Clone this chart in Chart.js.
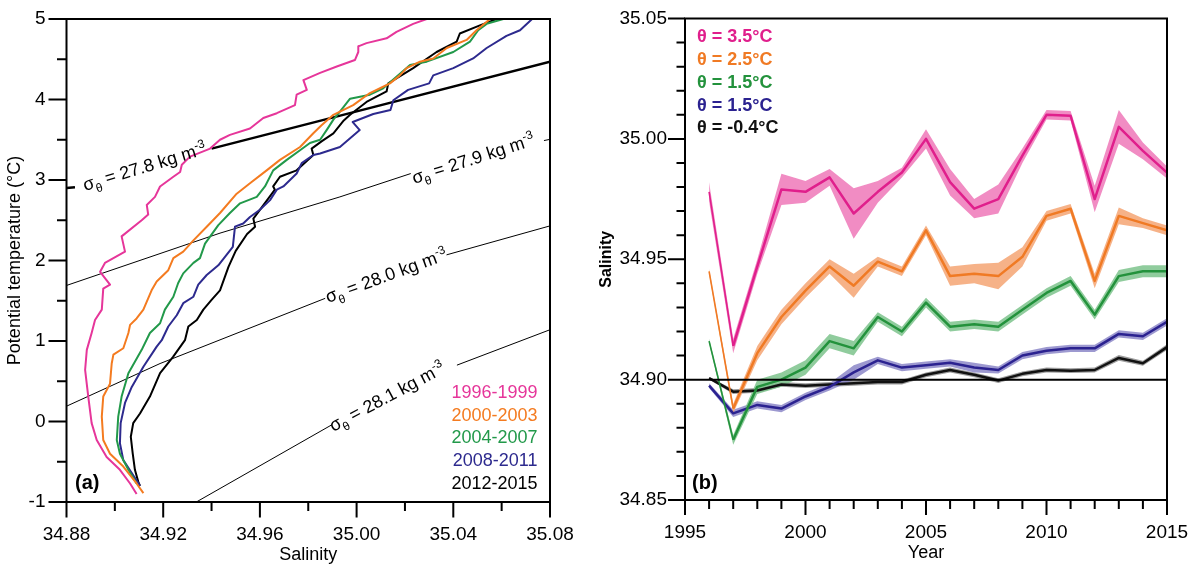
<!DOCTYPE html>
<html>
<head>
<meta charset="utf-8">
<script src="https://cdn.jsdelivr.net/npm/chart.js@4.4.0/dist/chart.umd.min.js"></script>
<style>
html, body { margin: 0; padding: 0; background: #fff; }
#wrap { position: relative; width: 1194px; height: 570px; }
#ca { position: absolute; left: 0; top: 0; }
#cb { position: absolute; left: 590px; top: 0; }
</style>
</head>
<body>
<div id="wrap">
  <canvas id="ca" width="590" height="570"></canvas>
  <canvas id="cb" width="604" height="570"></canvas>
</div>
<script>
// ---- panel (a): theta-S profiles, one per period ----
const sal9699 = [35.029, 35.0234, 35.0165, 35.0124, 35.0041, 35.0007, 35.0007, 34.9993, 34.9918, 34.9849, 34.978, 34.9794, 34.9752, 34.9745, 34.967, 34.9614, 34.9559, 34.9476, 34.9435, 34.9394, 34.9311, 34.9277, 34.927, 34.9242, 34.9187, 34.9166, 34.9132, 34.9138, 34.9111, 34.9028, 34.9042, 34.8959, 34.8939, 34.898, 34.8952, 34.8946, 34.8918, 34.8904, 34.8884, 34.8877, 34.889, 34.8904, 34.8925, 34.8966, 34.9021, 34.9063, 34.909];
const th9699  = [5.00, 4.94, 4.84, 4.76, 4.70, 4.66, 4.59, 4.49, 4.41, 4.33, 4.24, 4.12, 4.06, 3.93, 3.83, 3.77, 3.64, 3.56, 3.50, 3.39, 3.29, 3.19, 3.10, 3.04, 2.92, 2.79, 2.69, 2.57, 2.50, 2.30, 2.11, 1.97, 1.86, 1.70, 1.65, 1.39, 1.26, 1.10, 0.89, 0.64, 0.31, -0.02, -0.23, -0.44, -0.60, -0.77, -0.90];

const sal0003 = [35.0552, 35.0496, 35.0455, 35.0373, 35.0317, 35.0262, 35.0207, 35.0179, 35.0138, 35.0097, 35.0055, 34.9986, 34.9904, 34.9855, 34.9821, 34.9766, 34.9683, 34.9628, 34.9559, 34.9504, 34.9435, 34.938, 34.9325, 34.9283, 34.9242, 34.9221, 34.9173, 34.9152, 34.9118, 34.909, 34.9063, 34.9056, 34.9035, 34.8994, 34.8987, 34.898, 34.8952, 34.8946, 34.8952, 34.898, 34.9035, 34.909, 34.9118];
const th0003  = [5.00, 4.86, 4.74, 4.64, 4.51, 4.47, 4.39, 4.30, 4.20, 4.14, 4.08, 3.93, 3.81, 3.68, 3.58, 3.41, 3.25, 3.12, 2.96, 2.83, 2.59, 2.42, 2.25, 2.11, 2.03, 1.88, 1.74, 1.63, 1.39, 1.28, 1.20, 1.10, 0.91, 0.83, 0.72, 0.47, 0.31, 0.06, -0.23, -0.40, -0.56, -0.77, -0.89];

const sal0407 = [35.0607, 35.0538, 35.0503, 35.0469, 35.04, 35.029, 35.0221, 35.011, 35.0055, 34.9973, 34.9931, 34.9904, 34.9876, 34.9849, 34.9807, 34.9766, 34.9711, 34.9655, 34.9621, 34.9587, 34.9518, 34.9476, 34.9428, 34.9373, 34.9352, 34.9325, 34.9283, 34.9262, 34.9242, 34.9207, 34.9187, 34.9145, 34.9111, 34.9056, 34.9028, 34.9014, 34.9008, 34.9021, 34.9056, 34.909];
const th0407  = [5.00, 4.94, 4.86, 4.72, 4.59, 4.47, 4.43, 4.14, 4.06, 4.01, 3.85, 3.75, 3.62, 3.50, 3.46, 3.37, 3.25, 3.12, 2.92, 2.79, 2.71, 2.59, 2.44, 2.21, 2.03, 1.97, 1.84, 1.72, 1.55, 1.39, 1.22, 1.10, 0.89, 0.60, 0.31, 0.06, -0.23, -0.40, -0.60, -0.77];

const sal0811 = [35.0726, 35.0676, 35.062, 35.0538, 35.0482, 35.04, 35.0317, 35.03, 35.0213, 35.0152, 35.014, 35.0069, 34.9984, 35.0013, 34.9931, 34.9849, 34.9821, 34.9773, 34.9752, 34.9697, 34.967, 34.9642, 34.96, 34.9559, 34.9531, 34.9497, 34.9488, 34.9428, 34.938, 34.9345, 34.9325, 34.9283, 34.9256, 34.9221, 34.9194, 34.9173, 34.9118, 34.907, 34.9042, 34.9024, 34.9021, 34.9035, 34.907, 34.9104];
const th0811  = [5.00, 4.86, 4.79, 4.64, 4.51, 4.39, 4.30, 4.20, 4.12, 3.99, 3.87, 3.82, 3.72, 3.62, 3.41, 3.33, 3.31, 3.21, 3.08, 2.92, 2.88, 2.75, 2.63, 2.54, 2.46, 2.42, 2.17, 1.94, 1.82, 1.70, 1.55, 1.47, 1.32, 1.18, 1.01, 0.93, 0.68, 0.43, 0.23, -0.02, -0.27, -0.48, -0.64, -0.80];

const sal1215 = [35.0579, 35.051, 35.0427, 35.0414, 35.0331, 35.0234, 35.0131, 35.0124, 35.0041, 34.9973, 34.9947, 34.9904, 34.9855, 34.9814, 34.9821, 34.9752, 34.9683, 34.9655, 34.9662, 34.96, 34.9573, 34.958, 34.9547, 34.950, 34.947, 34.9435, 34.94, 34.9366, 34.9339, 34.9304, 34.929, 34.924, 34.9187, 34.9145, 34.9104, 34.9076, 34.9066, 34.9074, 34.9083, 34.9097, 34.9104];
const th1215  = [5.00, 4.92, 4.82, 4.72, 4.59, 4.39, 4.20, 4.10, 3.97, 3.81, 3.74, 3.58, 3.48, 3.39, 3.31, 3.12, 3.04, 2.92, 2.88, 2.63, 2.52, 2.42, 2.33, 2.12, 1.92, 1.63, 1.51, 1.39, 1.26, 1.18, 1.01, 0.80, 0.60, 0.31, 0.10, -0.02, -0.19, -0.40, -0.60, -0.75, -0.80];

// isopycnals (null = gap left for the label)
const iso278S = [34.880, 34.8835, null, 34.940, 34.992, 35.080];
const iso278T = [2.90, 2.91, null, 3.39, 3.79, 4.47];
const iso279S = [34.880, 34.9435, 34.9931, 35.0224, null, 35.0775, 35.080];
const iso279T = [1.69, 2.34, 2.79, 3.08, null, 3.49, 3.505];
const iso280S = [34.880, 34.9187, 34.987, null, 35.0372, 35.080];
const iso280T = [0.19, 0.72, 1.53, null, 2.07, 2.43];
const iso281S = [34.9337, 34.9898, null, 35.0415, 35.080];
const iso281T = [-1.0, -0.04, null, 0.70, 1.14];

const isoNames  = ['27.8', '27.9', '28.0', '28.1'];
const isoLabelS = [34.8877, 35.0238, 34.9882, 34.9903];
const isoLabelT = [2.863, 2.95, 1.472, -0.13];
const isoLabelAngle = [-17, -18, -20, -28];

const periods = ['1996-1999', '2000-2003', '2004-2007', '2008-2011', '2012-2015'];
const salTicks = [34.88, 34.92, 34.96, 35.00, 35.04, 35.08];
const salMinor = [34.90, 34.94, 34.98, 35.02, 35.06];
const thTicks = [-1, 0, 1, 2, 3, 4, 5];
const thMinor = [-0.5, 0.5, 1.5, 2.5, 3.5, 4.5];

// ---- panel (b): salinity on isotherms ----
const years = [1996, 1997, 1998, 1999, 2000, 2001, 2002, 2003, 2004, 2005, 2006, 2007, 2008, 2009, 2010, 2011, 2012, 2013, 2014, 2015];
const sal35 = [34.978, 34.914, 34.947, 34.979, 34.978, 34.984, 34.969, 34.978, 34.986, 35.000, 34.982, 34.971, 34.975, 34.993, 35.010, 35.0096, 34.975, 35.005, 34.995, 34.986];
const err35 = [0.004, 0.003, 0.003, 0.0065, 0.0045, 0.0035, 0.0105, 0.0045, 0.002, 0.004, 0.0055, 0.004, 0.006, 0.003, 0.002, 0.002, 0.0055, 0.007, 0.0035, 0.0025];
const sal25 = [34.945, 34.888, 34.911, 34.926, 34.937, 34.947, 34.939, 34.949, 34.945, 34.962, 34.943, 34.944, 34.943, 34.951, 34.968, 34.971, 34.941, 34.968, 34.965, 34.962];
const err25 = [0.001, 0.002, 0.003, 0.003, 0.003, 0.003, 0.005, 0.002, 0.002, 0.002, 0.004, 0.004, 0.0055, 0.004, 0.002, 0.002, 0.003, 0.0035, 0.002, 0.002];
const sal15 = [34.916, 34.875, 34.897, 34.900, 34.905, 34.916, 34.913, 34.926, 34.920, 34.932, 34.922, 34.923, 34.922, 34.929, 34.936, 34.941, 34.927, 34.943, 34.945, 34.945];
const err15 = [0.001, 0.002, 0.003, 0.003, 0.003, 0.003, 0.003, 0.002, 0.002, 0.002, 0.002, 0.002, 0.002, 0.002, 0.002, 0.002, 0.002, 0.0025, 0.0025, 0.0025];
const sal15b = [34.8975, 34.886, 34.8895, 34.888, 34.893, 34.897, 34.903, 34.908, 34.905, 34.906, 34.907, 34.905, 34.904, 34.910, 34.912, 34.913, 34.913, 34.919, 34.918, 34.924];
const err15b = [0.001, 0.0015, 0.0015, 0.0015, 0.0015, 0.0015, 0.003, 0.0015, 0.0015, 0.0015, 0.0015, 0.002, 0.0015, 0.0015, 0.0015, 0.0015, 0.0015, 0.0015, 0.0015, 0.0015];
const salM04 = [34.9006, 34.895, 34.8955, 34.898, 34.8975, 34.898, 34.8985, 34.899, 34.899, 34.902, 34.904, 34.902, 34.8996, 34.9024, 34.904, 34.9037, 34.904, 34.909, 34.9068, 34.9135];
const errM04 = [0.0005, 0.001, 0.001, 0.001, 0.001, 0.001, 0.001, 0.001, 0.001, 0.001, 0.001, 0.001, 0.001, 0.001, 0.001, 0.001, 0.001, 0.0012, 0.001, 0.0012];
const thetaLabels = ['θ = 3.5°C', 'θ = 2.5°C', 'θ = 1.5°C', 'θ = 1.5°C', 'θ = -0.4°C'];
const refSal = 34.90;
const yearTicks = [1995, 2000, 2005, 2010, 2015];
const bSalTicks = [34.85, 34.90, 34.95, 35.00, 35.05];

const FONT = '"Liberation Sans", Arial, sans-serif';
const profColors = ['#e6369a', '#f47b20', '#22994a', '#2d2a8e', '#000000'];
const lineColors = ['#e01f8c', '#f07a24', '#23923c', '#2b2290', '#111111'];
const bandColors = ['rgba(238,120,185,0.85)', 'rgba(245,165,115,0.85)', 'rgba(125,195,140,0.85)', 'rgba(140,135,200,0.85)', 'rgba(140,140,140,0.85)'];

function pts(xs, ys) { return xs.map((v, i) => v === null ? { x: null, y: null } : { x: v, y: ys[i] }); }
function noPad(s) { s.paddingTop = 0; s.paddingBottom = 0; s.paddingLeft = 0; s.paddingRight = 0; }

function frameTicks(sp) {
  return {
    id: 'frameTicks',
    afterDatasetsDraw(chart) {
      const { ctx, chartArea: a, scales: { x, y } } = chart;
      ctx.save();
      ctx.strokeStyle = '#000';
      ctx.lineWidth = 2;
      ctx.strokeRect(a.left, a.top, a.right - a.left, a.bottom - a.top);
      ctx.beginPath();
      sp.xMajor.forEach(v => { const p = x.getPixelForValue(v); ctx.moveTo(p, a.bottom); ctx.lineTo(p, a.bottom + sp.xMaj); });
      sp.xMinor.forEach(v => { const p = x.getPixelForValue(v); ctx.moveTo(p, a.bottom); ctx.lineTo(p, a.bottom + sp.xMin); });
      sp.yMajor.forEach(v => { const p = y.getPixelForValue(v); ctx.moveTo(a.left, p); ctx.lineTo(a.left - sp.yMaj, p); });
      sp.yMinor.forEach(v => { const p = y.getPixelForValue(v); ctx.moveTo(a.left, p); ctx.lineTo(a.left - sp.yMin, p); });
      ctx.stroke();
      ctx.restore();
    }
  };
}

function sigmaLabel(ctx, px, py, ang, val) {
  ctx.save();
  ctx.translate(px, py);
  ctx.rotate(ang * Math.PI / 180);
  ctx.fillStyle = '#000';
  ctx.textAlign = 'left';
  ctx.textBaseline = 'alphabetic';
  const big = '18px ' + FONT, small = '12px ' + FONT;
  let cx = 0;
  ctx.font = big; ctx.fillText('σ', cx, 0); cx += ctx.measureText('σ').width;
  ctx.font = small; ctx.fillText('θ', cx, 5); cx += ctx.measureText('θ').width;
  const t = ' = ' + val + ' kg m';
  ctx.font = big; ctx.fillText(t, cx, 0); cx += ctx.measureText(t).width;
  ctx.font = small; ctx.fillText('-3', cx, -7);
  ctx.restore();
}

// ---------------- chart (a) ----------------
const profSets = [[sal9699, th9699], [sal0003, th0003], [sal0407, th0407], [sal0811, th0811], [sal1215, th1215]];
const dsA = [];
profSets.forEach((p, i) => dsA.push({ data: pts(p[0], p[1]), borderColor: profColors[i], borderWidth: 2 }));
[[iso278S, iso278T, 2.5], [iso279S, iso279T, 1], [iso280S, iso280T, 1], [iso281S, iso281T, 1]].forEach(d =>
  dsA.push({ data: pts(d[0], d[1]), borderColor: '#000', borderWidth: d[2] }));

const textsA = {
  id: 'textsA',
  afterDraw(chart) {
    const { ctx, chartArea: a, scales: { x, y } } = chart;
    isoNames.forEach((n, i) => sigmaLabel(ctx, x.getPixelForValue(isoLabelS[i]), y.getPixelForValue(isoLabelT[i]), isoLabelAngle[i], n));
    ctx.save();
    ctx.textBaseline = 'middle';
    ctx.textAlign = 'right';
    ctx.font = '18px ' + FONT;
    const ly = [393, 416, 438.5, 461.5, 484];
    periods.forEach((p, i) => { ctx.fillStyle = profColors[i]; ctx.fillText(p, a.right - 12.5, ly[i]); });
    ctx.fillStyle = '#000';
    ctx.textAlign = 'left';
    ctx.font = 'bold 20px ' + FONT;
    ctx.fillText('(a)', a.left + 8.5, 483.5);
    ctx.font = '18px ' + FONT;
    ctx.textAlign = 'center';
    ctx.fillText('Salinity', (a.left + a.right) / 2, 555);
    ctx.translate(15, (a.top + a.bottom) / 2);
    ctx.rotate(-Math.PI / 2);
    ctx.fillText('Potential temperature (°C)', 0, 0);
    ctx.restore();
  }
};

new Chart(document.getElementById('ca'), {
  type: 'scatter',
  data: { datasets: dsA },
  options: {
    responsive: false,
    animation: false,
    showLine: true,
    spanGaps: false,
    layout: { padding: { top: 19, right: 40, left: 0, bottom: 0 } },
    elements: { point: { radius: 0 }, line: { tension: 0, borderJoinStyle: 'round' } },
    plugins: { legend: { display: false }, tooltip: { enabled: false } },
    scales: {
      x: {
        type: 'linear', min: 34.88, max: 35.08,
        afterFit: s => { s.height = 68; noPad(s); },
        afterBuildTicks: s => { s.ticks = salTicks.map(v => ({ value: v })); },
        grid: { display: false, drawTicks: false }, border: { display: false },
        ticks: { padding: 21, color: '#000', font: { family: FONT, size: 19 }, maxRotation: 0, callback: v => v.toFixed(2) }
      },
      y: {
        type: 'linear', min: -1, max: 5,
        afterFit: s => { s.width = 66.5; noPad(s); },
        afterBuildTicks: s => { s.ticks = thTicks.map(v => ({ value: v })); },
        grid: { display: false, drawTicks: false }, border: { display: false },
        ticks: { padding: 21, color: '#000', font: { family: FONT, size: 19 }, callback: v => String(Math.round(v)) }
      }
    }
  },
  plugins: [frameTicks({ xMajor: salTicks, xMinor: salMinor, yMajor: thTicks, yMinor: thMinor, xMaj: 15.5, xMin: 9, yMaj: 18, yMin: 9.5 }), textsA]
});

// ---------------- chart (b) ----------------
const seriesB = [[sal35, err35], [sal25, err25], [sal15, err15], [sal15b, err15b], [salM04, errM04]];
const dsB = [{ data: [{ x: 1995, y: refSal }, { x: 2015, y: refSal }], borderColor: '#000', borderWidth: 2 }];
seriesB.forEach((s, i) => dsB.push({
  data: pts(years, s[0]), borderColor: lineColors[i], borderWidth: 2.5,
  segment: { borderWidth: c => (c.p0DataIndex === 0 && i < 3) ? 1.6 : undefined }
}));
seriesB.forEach((s, i) => {
  const hiIdx = dsB.length;
  dsB.push({ data: pts(years, s[0].map((v, k) => v + s[1][k])), borderWidth: 0, borderColor: 'rgba(0,0,0,0)' });
  dsB.push({ data: pts(years, s[0].map((v, k) => v - s[1][k])), borderWidth: 0, borderColor: 'rgba(0,0,0,0)', fill: hiIdx, backgroundColor: bandColors[i] });
});

const textsB = {
  id: 'textsB',
  afterDraw(chart) {
    const { ctx, chartArea: a } = chart;
    ctx.save();
    ctx.textBaseline = 'middle';
    ctx.textAlign = 'left';
    ctx.font = 'bold 18px ' + FONT;
    const ly = [37.5, 60.5, 83.5, 106, 128.5];
    thetaLabels.forEach((t, i) => { ctx.fillStyle = lineColors[i]; ctx.fillText(t, a.left + 12, ly[i]); });
    ctx.fillStyle = '#000';
    ctx.font = 'bold 20px ' + FONT;
    ctx.fillText('(b)', a.left + 7, 483.5);
    ctx.font = '18px ' + FONT;
    ctx.textAlign = 'center';
    ctx.fillText('Year', (a.left + a.right) / 2, 553);
    ctx.translate(17, (a.top + a.bottom) / 2);
    ctx.rotate(-Math.PI / 2);
    ctx.font = 'bold 16px ' + FONT;
    ctx.fillText('Salinity', 0, 0);
    ctx.restore();
  }
};

new Chart(document.getElementById('cb'), {
  type: 'line',
  data: { datasets: dsB },
  options: {
    responsive: false,
    animation: false,
    spanGaps: false,
    layout: { padding: { top: 18.5, right: 27, left: 0, bottom: 0 } },
    elements: { point: { radius: 0 }, line: { tension: 0, borderJoinStyle: 'round' } },
    plugins: { legend: { display: false }, tooltip: { enabled: false }, filler: { propagate: false } },
    scales: {
      x: {
        type: 'linear', min: 1995, max: 2015,
        afterFit: s => { s.height = 70; noPad(s); },
        afterBuildTicks: s => { s.ticks = yearTicks.map(v => ({ value: v })); },
        grid: { display: false, drawTicks: false }, border: { display: false },
        ticks: { padding: 21, color: '#000', font: { family: FONT, size: 19 }, maxRotation: 0, callback: v => String(v) }
      },
      y: {
        type: 'linear', min: 34.85, max: 35.05,
        afterFit: s => { s.width = 95; noPad(s); },
        afterBuildTicks: s => { s.ticks = bSalTicks.map(v => ({ value: v })); },
        grid: { display: false, drawTicks: false }, border: { display: false },
        ticks: { padding: 18, color: '#000', font: { family: FONT, size: 19 }, callback: v => v.toFixed(2) }
      }
    }
  },
  plugins: [frameTicks({
    xMajor: yearTicks, xMinor: years.filter(v => v % 5 !== 0),
    yMajor: bSalTicks, yMinor: [34.86, 34.87, 34.88, 34.89, 34.91, 34.92, 34.93, 34.94, 34.96, 34.97, 34.98, 34.99, 35.01, 35.02, 35.03, 35.04],
    xMaj: 15, xMin: 9, yMaj: 17, yMin: 8.5
  }), textsB]
});
</script>
</body>
</html>
